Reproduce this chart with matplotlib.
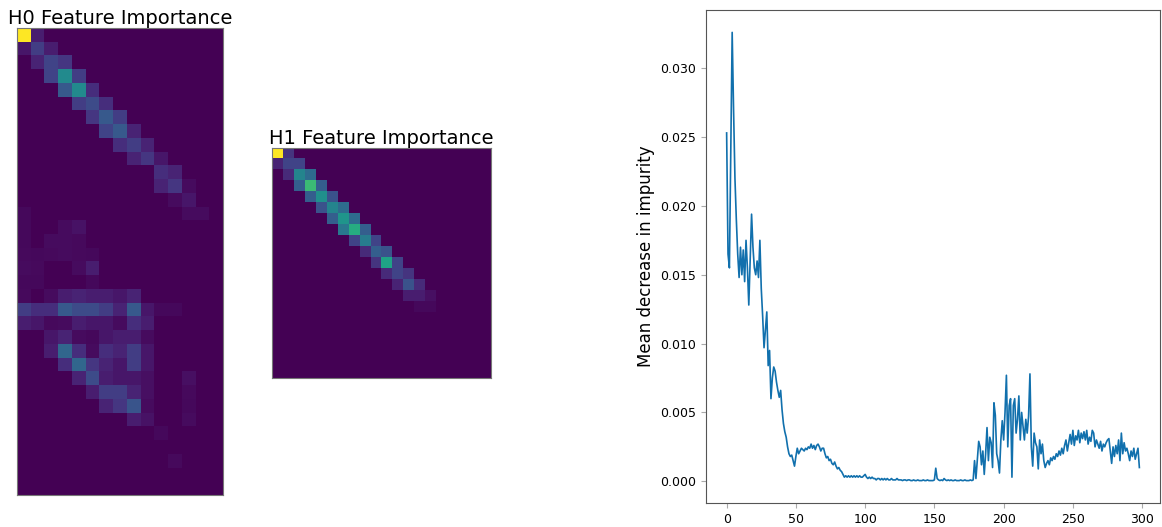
import numpy as np
import matplotlib
matplotlib.use("Agg")
import matplotlib.pyplot as plt

# mean decrease in impurity per feature, in units of 1e-4
mdi_e4 = [
    253, 165, 155, 240, 326, 270, 220, 190, 165, 148,
    170, 150, 168, 145, 175, 155, 128, 160, 194, 170,
    155, 150, 160, 148, 175, 140, 120, 97, 110, 123,
    84, 95, 60, 75, 83, 80, 72, 66, 61, 66,
    52, 42, 36, 32, 25, 20, 18, 19, 15, 11,
    18, 24, 20, 22, 24, 23, 22, 24, 23, 25,
    24, 27, 24, 26, 23, 26, 27, 25, 22, 24,
    24, 20, 17, 18, 15, 16, 13, 12, 14, 11,
    9, 10, 8, 7, 5, 3, 4, 3, 4, 3,
    4, 3, 4, 3, 4, 3, 4, 3, 3, 4,
    5, 3, 2, 3, 2, 3, 2, 2, 1, 2,
    2, 1, 2, 1, 2, 1, 2, 1, 1, 2,
    1, 1, 1, 2, 1, 1, 1, 0.5, 1, 1,
    0.5, 1, 1, 0.5, 0.5, 1, 0.5, 0.5, 1, 0.5,
    0.5, 0.5, 1, 0.5, 0.5, 1, 0.5, 0.5, 0.5, 0.5,
    1, 9.5, 2, 1, 0.5, 1, 0.5, 2, 1, 0.5,
    1, 0.5, 1, 0.5, 0.5, 1, 0.5, 0.5, 0.5, 1,
    0.5, 0.5, 1, 0.5, 0.5, 0.5, 1, 0.5, 1, 15,
    2, 15, 29, 25, 12, 22, 5, 20, 39, 15,
    32, 28, 10, 57, 48, 20, 15, 6, 30, 44,
    30, 50, 77, 25, 55, 60, 3, 55, 60, 35,
    45, 62, 30, 50, 40, 30, 45, 35, 47, 78,
    25, 11, 35, 28, 25, 9, 30, 20, 27, 15,
    10, 13, 15, 12, 17, 15, 18, 16, 20, 18,
    22, 19, 24, 20, 26, 30, 22, 28, 34, 27,
    37, 26, 33, 30, 37, 28, 35, 31, 36, 30,
    37, 27, 32, 29, 37, 35, 25, 30, 27, 24,
    29, 22, 27, 25, 28, 30, 31, 22, 13, 25,
    18, 26, 20, 30, 15, 35, 20, 28, 22, 24,
    20, 15, 22, 18, 24, 16, 20, 24, 10,
]
mdi = np.array(mdi_e4) * 1e-4

# H0 importance: 34 rows x 15 cols, (row, col, value)
h0_cells = [
    (0, 0, 1.0), (0, 1, 0.08),
    (1, 0, 0.06), (1, 1, 0.18), (1, 2, 0.08),
    (2, 1, 0.1), (2, 2, 0.2), (2, 3, 0.16),
    (3, 2, 0.2), (3, 3, 0.48), (3, 4, 0.18),
    (4, 3, 0.28), (4, 4, 0.48), (4, 5, 0.13),
    (5, 4, 0.18), (5, 5, 0.23), (5, 6, 0.13),
    (6, 5, 0.16), (6, 6, 0.28), (6, 7, 0.18),
    (7, 6, 0.2), (7, 7, 0.28), (7, 8, 0.1),
    (8, 7, 0.13), (8, 8, 0.18), (8, 9, 0.1),
    (9, 8, 0.1), (9, 9, 0.16), (9, 10, 0.06),
    (10, 10, 0.13), (10, 11, 0.1),
    (11, 10, 0.1), (11, 11, 0.16), (11, 12, 0.03),
    (12, 11, 0.03), (12, 12, 0.06),
    (13, 0, 0.02), (13, 12, 0.03), (13, 13, 0.03),
    (14, 0, 0.02), (14, 3, 0.03), (14, 4, 0.05),
    (15, 0, 0.02), (15, 2, 0.03), (15, 3, 0.03), (15, 4, 0.025),
    (16, 0, 0.025), (16, 1, 0.02), (16, 2, 0.025), (16, 3, 0.03), (16, 4, 0.025), (16, 5, 0.02),
    (17, 0, 0.03), (17, 1, 0.025), (17, 4, 0.03), (17, 5, 0.08),
    (18, 0, 0.02), (18, 1, 0.02), (18, 5, 0.02),
    (19, 0, 0.025), (19, 2, 0.03), (19, 3, 0.08), (19, 4, 0.1), (19, 5, 0.08),
    (19, 6, 0.08), (19, 7, 0.06), (19, 8, 0.1),
    (20, 0, 0.18), (20, 1, 0.13), (20, 2, 0.13), (20, 3, 0.28), (20, 4, 0.23), (20, 5, 0.23),
    (20, 6, 0.18), (20, 7, 0.1), (20, 8, 0.28), (20, 9, 0.06), (20, 10, 0.02), (20, 11, 0.02),
    (21, 0, 0.08), (21, 1, 0.06), (21, 2, 0.025), (21, 3, 0.03), (21, 4, 0.08), (21, 5, 0.06),
    (21, 6, 0.06), (21, 7, 0.03), (21, 8, 0.13), (21, 9, 0.08),
    (22, 2, 0.06), (22, 3, 0.1), (22, 4, 0.03), (22, 5, 0.02), (22, 6, 0.06), (22, 7, 0.08),
    (22, 8, 0.08), (22, 9, 0.03),
    (23, 2, 0.08), (23, 3, 0.33), (23, 4, 0.13), (23, 5, 0.03), (23, 6, 0.13), (23, 7, 0.1),
    (23, 8, 0.18), (23, 9, 0.06),
    (24, 3, 0.13), (24, 4, 0.33), (24, 5, 0.16), (24, 6, 0.1), (24, 7, 0.06), (24, 8, 0.18),
    (24, 9, 0.06),
    (25, 4, 0.1), (25, 5, 0.23), (25, 6, 0.08), (25, 7, 0.06), (25, 8, 0.06), (25, 9, 0.04),
    (25, 12, 0.04),
    (26, 5, 0.08), (26, 6, 0.18), (26, 7, 0.18), (26, 8, 0.1), (26, 9, 0.04), (26, 12, 0.025),
    (27, 6, 0.1), (27, 7, 0.16), (27, 8, 0.26), (27, 9, 0.03), (27, 12, 0.02),
    (28, 8, 0.08), (28, 9, 0.05), (28, 12, 0.03),
    (29, 10, 0.02),
    (31, 11, 0.025),
]

# H1 importance: 21 rows x 20 cols
h1_cells = [
    (0, 0, 1.0), (0, 1, 0.15),
    (1, 0, 0.1), (1, 1, 0.2), (1, 2, 0.2),
    (2, 1, 0.12), (2, 2, 0.45), (2, 3, 0.35),
    (3, 2, 0.3), (3, 3, 0.68), (3, 4, 0.3),
    (4, 3, 0.3), (4, 4, 0.5), (4, 5, 0.25),
    (5, 4, 0.25), (5, 5, 0.45), (5, 6, 0.35),
    (6, 5, 0.3), (6, 6, 0.52), (6, 7, 0.35),
    (7, 6, 0.4), (7, 7, 0.62), (7, 8, 0.3),
    (8, 7, 0.2), (8, 8, 0.42), (8, 9, 0.2),
    (9, 8, 0.12), (9, 9, 0.3), (9, 10, 0.25),
    (10, 9, 0.15), (10, 10, 0.58), (10, 11, 0.2),
    (11, 10, 0.12), (11, 11, 0.2), (11, 12, 0.15),
    (12, 11, 0.1), (12, 12, 0.25), (12, 13, 0.12),
    (13, 12, 0.08), (13, 13, 0.08), (13, 14, 0.04),
    (14, 13, 0.02), (14, 14, 0.02),
]


def build(cells, shape):
    m = np.zeros(shape)
    for r, c, v in cells:
        m[r, c] = v
    return m


h0 = build(h0_cells, (34, 15))
h1 = build(h1_cells, (21, 20))

fig = plt.figure(figsize=(11.62, 5.27), dpi=100)
W, H = 1162, 527


def px_axes(x0, y0, x1, y1):
    return fig.add_axes([x0 / W, 1 - y1 / H, (x1 - x0) / W, (y1 - y0) / H])


ax0 = px_axes(17, 28, 223, 495)
ax1 = px_axes(272, 148, 491, 378)
ax2 = px_axes(706, 10, 1160, 503)

for ax, m, title in [(ax0, h0, "H0 Feature Importance"), (ax1, h1, "H1 Feature Importance")]:
    ax.imshow(m, cmap="viridis", aspect="auto", interpolation="nearest", vmin=0, vmax=1)
    ax.set_xticks([])
    ax.set_yticks([])
    ax.set_title(title, fontsize=14, pad=2)
    for s in ax.spines.values():
        s.set_color("#777777")

ax2.plot(np.arange(len(mdi)), mdi, color="#1170ad", linewidth=1.2)
ax2.set_ylabel("Mean decrease in impurity", fontsize=12)
ax2.set_yticks([0.0, 0.005, 0.010, 0.015, 0.020, 0.025, 0.030])
ax2.set_xticks([0, 50, 100, 150, 200, 250, 300])
ax2.tick_params(labelsize=9, color="#aaaaaa")
for s in ax2.spines.values():
    s.set_color("#555555")

fig.savefig("out.png", dpi=100)
